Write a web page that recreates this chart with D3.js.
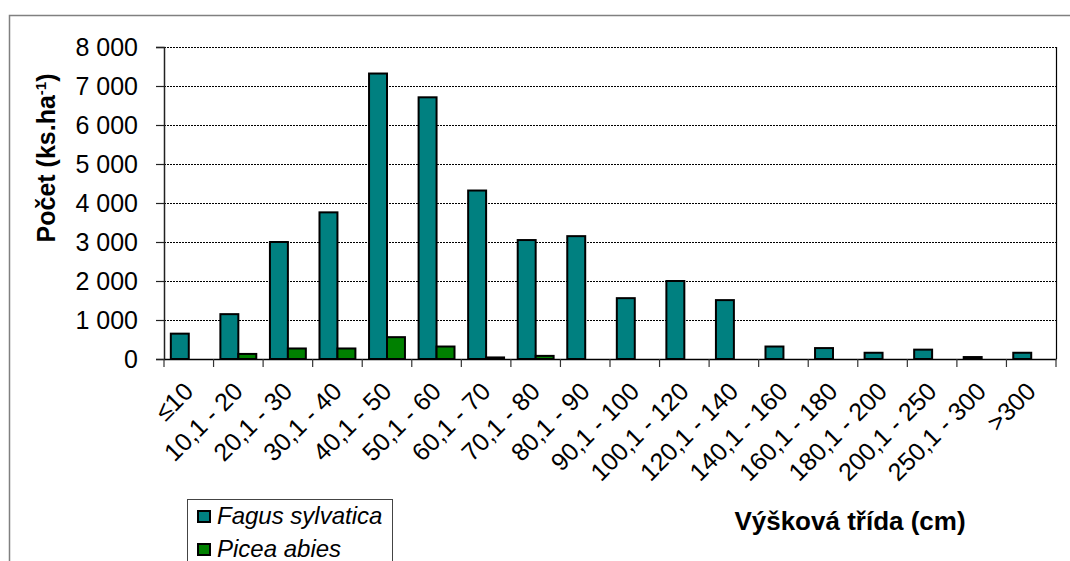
<!DOCTYPE html>
<html>
<head>
<meta charset="utf-8">
<script src="https://cdn.jsdelivr.net/npm/d3@7"></script>
<style>
  body { margin: 0; background: #fff; }
  text { font-family: "Liberation Sans", Arial, sans-serif; }
</style>
</head>
<body>
<script>
// data
const categories = ["≤10", "10,1 - 20", "20,1 - 30", "30,1 - 40", "40,1 - 50", "50,1 - 60",
  "60,1 - 70", "70,1 - 80", "80,1 - 90", "90,1 - 100", "100,1 - 120", "120,1 - 140",
  "140,1 - 160", "160,1 - 180", "180,1 - 200", "200,1 - 250", "250,1 - 300", ">300"];
const fagus = [650, 1150, 3000, 3760, 7320, 6710, 4320, 3050, 3150, 1560, 2000, 1510, 320, 280, 160, 240, 50, 160];
const picea = [0, 130, 270, 270, 560, 320, 40, 80, 0, 0, 0, 0, 0, 0, 0, 0, 0, 0];
const seriesNames = ["Fagus sylvatica", "Picea abies"];
const seriesColors = ["#008080", "#008000"];
const yTicks = [0, 1000, 2000, 3000, 4000, 5000, 6000, 7000, 8000];

const W = 1070, H = 561;
const pLeft = 164, pRight = 1056, pTop = 47, pBottom = 359;

const svg = d3.select("body").append("svg")
    .attr("width", W)
    .attr("height", H);

// outer chart border
svg.append("rect")
    .attr("x", 9.5).attr("y", 15.5)
    .attr("width", 1100).attr("height", 600)
    .attr("fill", "#fff")
    .attr("stroke", "#808080").attr("stroke-width", 1.5);

const x = d3.scaleBand().domain(categories).range([pLeft, pRight]).padding(0);
const xs = d3.scaleBand().domain([0, 1]).range([0, x.bandwidth()])
    .paddingInner(0).paddingOuter(0.38);
const y = d3.scaleLinear().domain([0, 8000]).range([pBottom, pTop]);

const fmt = d3.formatLocale({ decimal: ",", thousands: " ", grouping: [3], currency: ["", ""] }).format(",d");

// grid lines
svg.append("g").selectAll("line")
    .data(yTicks.filter(d => d > 0))
    .enter().append("line")
    .attr("x1", pLeft).attr("x2", pRight)
    .attr("y1", d => Math.round(y(d)) + 0.5).attr("y2", d => Math.round(y(d)) + 0.5)
    .attr("stroke", "#000").attr("stroke-width", 1)
    .attr("stroke-dasharray", "2,1");

// right edge of plot area
svg.append("line")
    .attr("x1", pRight + 0.5).attr("x2", pRight + 0.5)
    .attr("y1", pTop).attr("y2", pBottom)
    .attr("stroke", "#000").attr("stroke-width", 1.2);

// bars
const rows = categories.map((c, i) => ({ cat: c, vals: [fagus[i], picea[i]] }));
const groups = svg.append("g").selectAll("g")
    .data(rows)
    .enter().append("g")
    .attr("transform", d => `translate(${x(d.cat)},0)`);

groups.selectAll("rect")
    .data(d => d.vals.map((v, k) => ({ v, k })).filter(e => e.v > 0))
    .enter().append("rect")
    .attr("x", d => xs(d.k))
    .attr("y", d => y(d.v))
    .attr("width", xs.bandwidth())
    .attr("height", d => pBottom - y(d.v))
    .attr("fill", d => seriesColors[d.k])
    .attr("stroke", "#000")
    .attr("stroke-width", 2);

// y axis
const yAxis = svg.append("g")
    .attr("transform", `translate(${pLeft},0)`)
    .call(d3.axisLeft(y).tickValues(yTicks).tickFormat(fmt).tickSize(8).tickPadding(18));
yAxis.select(".domain").attr("stroke", "#222").attr("stroke-width", 1.5);
yAxis.selectAll(".tick line").attr("stroke", "#222").attr("stroke-width", 1.2);
yAxis.selectAll("text")
    .attr("font-size", 25).attr("fill", "#000")
    .style("font-family", "'Liberation Sans', Arial, sans-serif");

// x axis
const xAxis = svg.append("g")
    .attr("transform", `translate(0,${pBottom})`)
    .call(d3.axisBottom(x).tickSize(0).tickFormat(""));
xAxis.select(".domain").attr("stroke", "#000").attr("stroke-width", 1.5);

// category ticks at boundaries
svg.append("g").selectAll("line")
    .data(d3.range(categories.length + 1))
    .enter().append("line")
    .attr("x1", i => pLeft + i * x.step()).attr("x2", i => pLeft + i * x.step())
    .attr("y1", pBottom).attr("y2", pBottom + 8)
    .attr("stroke", "#333").attr("stroke-width", 1.2);

// category labels
svg.append("g").selectAll("text")
    .data(categories)
    .enter().append("text")
    .attr("transform", d => `translate(${x(d) + x.bandwidth() / 2 + 6},393) rotate(-45)`)
    .attr("text-anchor", "end")
    .attr("font-size", 25)
    .text(d => d);

// y title
const yt = svg.append("text")
    .attr("transform", "translate(55,158) rotate(-90)")
    .attr("text-anchor", "middle")
    .attr("font-size", 25)
    .attr("font-weight", "bold");
yt.append("tspan").text("Počet (ks.ha");
yt.append("tspan").attr("font-size", 15).attr("dy", -9).text("-1");
yt.append("tspan").attr("dy", 9).text(")");

// x title
svg.append("text")
    .attr("x", 850).attr("y", 530)
    .attr("text-anchor", "middle")
    .attr("font-size", 26)
    .attr("font-weight", "bold")
    .text("Výšková třída (cm)");

// legend
const lg = svg.append("g").attr("transform", "translate(187,499)");
lg.append("rect")
    .attr("x", 0.5).attr("y", 0.5)
    .attr("width", 205).attr("height", 80)
    .attr("fill", "#fff").attr("stroke", "#444").attr("stroke-width", 1);
const items = lg.selectAll("g.item")
    .data(seriesNames)
    .enter().append("g")
    .attr("class", "item")
    .attr("transform", (d, i) => `translate(0,${i * 33})`);
items.append("rect")
    .attr("x", 11).attr("y", 12)
    .attr("width", 12).attr("height", 11)
    .attr("fill", (d, i) => seriesColors[i])
    .attr("stroke", "#000").attr("stroke-width", 2);
items.append("text")
    .attr("x", 30).attr("y", 25)
    .attr("font-size", 24)
    .attr("font-style", "italic")
    .text(d => d);
</script>
</body>
</html>
